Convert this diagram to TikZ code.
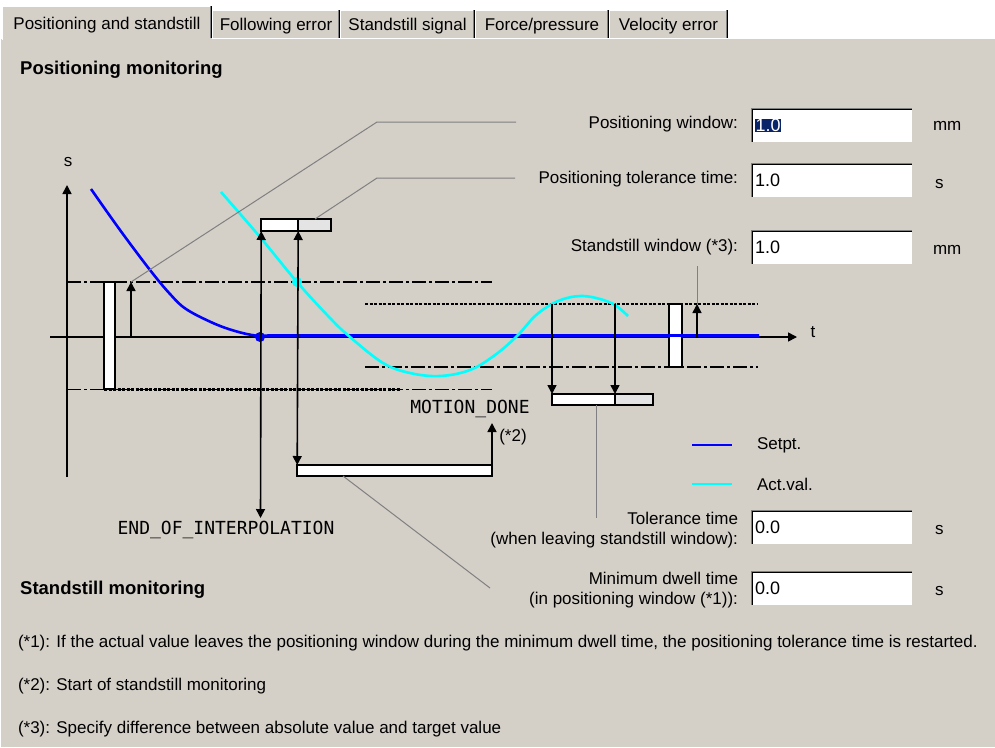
\documentclass[tikz,border=0pt]{standalone}
\usepackage{fontspec}
\setmainfont{Liberation Sans}
\newfontfamily\sigfont{DejaVu Sans Mono}
\usetikzlibrary{arrows.meta}
\definecolor{panel}{RGB}{212,208,200}
\definecolor{edgegray}{RGB}{128,128,128}
\definecolor{selblue}{RGB}{10,36,106}
\definecolor{flaggray}{RGB}{228,228,228}
\definecolor{setblue}{RGB}{0,0,255}
\definecolor{actcyan}{RGB}{0,255,255}

% sunken edit field: name, left x, top y, content
\newcommand\editfield[4]{%
  \node[field] (#1) at (#2,#3) {#4};
  \draw[edgegray,line width=1pt] ([shift={(0.5pt,0pt)}]#1.south west) -- ([shift={(0.5pt,-0.5pt)}]#1.north west) -- ([shift={(0pt,-0.5pt)}]#1.north east);
  \draw[black,line width=1pt] ([shift={(1.5pt,1pt)}]#1.south west) -- ([shift={(1.5pt,-1.5pt)}]#1.north west) -- ([shift={(-1pt,-1.5pt)}]#1.north east);
  \draw[panel,line width=1pt] ([shift={(0pt,0.5pt)}]#1.south west) -- ([shift={(-0.5pt,0.5pt)}]#1.south east) -- ([shift={(-0.5pt,0pt)}]#1.north east);
}
% tab of the tab strip: name, left x, right x, top y, label
\newcommand\tabitem[5]{%
  \node[tabsty,minimum width={#3-#2},minimum height={38-#4}] (#1) at ({(#2+#3)/2},{(38+#4)/2}) {#5};
  \draw[white,line width=1pt] ([xshift=0.5pt]#1.south west) -- ([shift={(0.5pt,-0.5pt)}]#1.north west) -- ([shift={(-1pt,-0.5pt)}]#1.north east);
  \draw[edgegray,line width=1pt] ([xshift=-1.5pt]#1.north east) -- ([xshift=-1.5pt]#1.south east);
  \draw[black,line width=1pt] ([xshift=-0.5pt]#1.north east) -- ([xshift=-0.5pt]#1.south east);
}

\begin{document}
\begin{tikzpicture}[x=1pt,y=-1pt,
  ui/.style={inner sep=0pt,outer sep=0pt,font=\fontsize{17}{21}\selectfont},
  lbl/.style={ui,anchor=east,align=right},
  unit/.style={ui,anchor=west},
  head/.style={inner sep=0pt,anchor=west,font=\bfseries\fontsize{18.5}{21}\selectfont},
  sig/.style={inner sep=0pt,font=\sigfont\fontsize{18}{21}\selectfont},
  note/.style={ui,anchor=west},
  tabsty/.style={ui,fill=panel,inner sep=0pt,text depth=0pt},
  field/.style={ui,anchor=north west,fill=white,minimum width=162pt,minimum height=35pt,
    inner xsep=4pt,text width=154pt,align=left,font=\fontsize{18}{21}\selectfont},
  axis/.style={line width=1.6pt,black},
  tip/.style={-{Triangle[width=9pt,length=9pt]}},
  tips/.style={{Triangle[width=9pt,length=9pt]}-{Triangle[width=9pt,length=9pt]}},
  leader/.style={edgegray,line width=1pt},
  posline/.style={line width=1.4pt,black,dash pattern=on 14pt off 3pt on 3pt off 3pt},
  dotline/.style={line width=2.2pt,black,dash pattern=on 3pt off 1.5pt},
  winbar/.style={draw=black,line width=1.4pt,fill=white,inner sep=0pt,outer sep=0pt,anchor=north west},
  flagw/.style={draw=black,line width=1.4pt,fill=white,inner sep=0pt,outer sep=0pt,anchor=north west},
  flagg/.style={flagw,fill=flaggray},
  dot/.style={circle,inner sep=0pt,minimum size=10pt}]

% frame and panel
\useasboundingbox (0,0) rectangle (995,747);
\fill[white] (0,0) rectangle (995,39);
\fill[panel] (0,38) rectangle (995,747);
\draw[white,line width=1pt] (0,38.5) -- (995,38.5);
\draw[white,line width=1pt] (0.5,38) -- (0.5,747);

% tab strip
\tabitem{tabB}{212}{340}{10}{Following error}
\tabitem{tabC}{340}{475}{10}{Standstill signal}
\tabitem{tabD}{475}{609}{10}{Force/pressure}
\tabitem{tabE}{609}{728}{10}{Velocity error}
\node[tabsty,minimum width=210pt,minimum height=34pt] (tabA) at (107,23) {Positioning and standstill};
\draw[white,line width=1pt] (2.5,40) -- (2.5,6.5) -- (211,6.5);
\draw[edgegray,line width=1pt] (210.5,6) -- (210.5,38);
\draw[black,line width=1pt] (211.5,6) -- (211.5,38);

% headings
\node[head] (hpos) at (20,70) {Positioning monitoring};
\node[head] (hstill) at (20,590) {Standstill monitoring};

% parameter labels, fields and units
\node[lbl] (pwlab) at (738,124) {Positioning window:};
\node[lbl] (ptlab) at (738,179) {Positioning tolerance time:};
\node[lbl] (swlab) at (738,247) {Standstill window (*3):};
\node[lbl] (stlab) at (738,530) {Tolerance time\\[-0.5pt](when leaving standstill window):};
\node[lbl] (mdlab) at (738,590) {Minimum dwell time\\[-0.5pt](in positioning window (*1)):};

\editfield{pwf}{751}{108}{{\fboxsep=0.6pt\colorbox{selblue}{\color{white}1.0}}}
\editfield{ptf}{751}{163}{1.0}
\editfield{swf}{751}{230}{1.0}
\editfield{stf}{751}{510}{0.0}
\editfield{mdf}{751}{571}{0.0}

\node[unit] (pwu) at (933,126) {mm};
\node[unit] (ptu) at (935,184) {s};
\node[unit] (swu) at (933,250) {mm};
\node[unit] (stu) at (935,530) {s};
\node[unit] (mdu) at (935,591) {s};

% footnotes
\node[note] (n1) at (18,643) {(*1): If the actual value leaves the positioning window during the minimum dwell time, the positioning tolerance time is restarted.};
\node[note] (n2) at (18,686) {(*2): Start of standstill monitoring};
\node[note] (n3) at (18,729) {(*3): Specify difference between absolute value and target value};

% axes
\coordinate (ybot) at (67,477);
\coordinate (ytop) at (67,185);
\coordinate (xl) at (50,337);
\coordinate (xr) at (797,337);
\draw[axis,tip] (ybot) -- (ytop);
\draw[axis,tip] (xl) -- (xr);
\node[ui] (slab) at (68,162) {s};
\node[ui] (tlab) at (813,332) {t};

% positioning window limits
\draw[posline] (67,282) -- (492,282);
\draw[posline] (67,389.5) -- (492,389.5);
\draw[dotline] (104,389.5) -- (401,389.5);
% standstill window limits
\draw[dotline] (365,304) -- (758,304);
\draw[posline] (365,367) -- (758,367);

% window bars
\node[winbar,minimum width=11pt,minimum height=107pt] (pwbar) at (104,282) {};
\node[winbar,minimum width=13pt,minimum height=63pt] (swbar) at (669,304) {};

% setpoint and actual value
\draw[setblue,line width=2.6pt,line join=round]
  plot[smooth,tension=0.6] coordinates {(91,189) (120,230) (150,270) (170,294) (186,309) (213,323) (235,331) (255,335.5) (268,335.5)}
  -- (759,335.5);
\draw[actcyan,line width=2.6pt,line join=round]
  plot[smooth,tension=0.6] coordinates {(221,192) (260,237) (297,282) (330,318) (350,337) (383,363) (410,373) (440,376) (470,370) (495,355) (517,336) (535,316) (552,304) (567,298) (583,296) (600,299) (615,305) (628,316)};
\node[dot,fill=setblue] (endip) at (260,337) {};
\node[dot,fill=actcyan] (enterpw) at (297,282) {};

% positioning window width
\coordinate (pwbase) at (131,337);
\coordinate (pwtip) at (131,282);
\draw[axis,tip] (pwbase) -- (pwtip);
\coordinate (pwbend) at (377,122);
\coordinate (pwend) at (516,122);
\draw[leader] (pwtip) -- (pwbend) -- (pwend);

% positioning tolerance time flag
\node[flagw,minimum width=37pt,minimum height=12pt] (ptw) at (261,219) {};
\node[flagg,minimum width=33pt,minimum height=12pt] (ptg) at (298,219) {};
\coordinate (ptbend) at (377,178);
\coordinate (ptend) at (515,178);
\draw[leader] ([xshift=17pt]ptg.north west) -- (ptbend) -- (ptend);

% signals
\node[sig] (eoi) at (226,530) {END\_OF\_INTERPOLATION};
\coordinate (eoitip) at (260.5,518);
\draw[axis,tips] ([xshift=0.2pt]ptw.south west) -- (eoitip);

\node[flagw,minimum width=195pt,minimum height=11pt] (mdbox) at (297,465) {};
\draw[axis,tips] ([xshift=0.2pt]ptg.south west) -- ([xshift=0.2pt]mdbox.north west);
\node[sig] (mdone) at (470,409) {MOTION\_DONE};
\coordinate (mdtip) at (492,423);
\draw[axis,tip] (mdbox.north east) -- (mdtip);
\node[ui] (star2) at (513,437) {(*2)};
\coordinate (mdend) at (490,588);
\draw[leader] ([xshift=46pt]mdbox.south west) -- (mdend);

% standstill tolerance time flag
\node[flagw,minimum width=63pt,minimum height=11pt] (stw) at (552,394) {};
\node[flagg,minimum width=38pt,minimum height=11pt] (stg) at (615,394) {};
\coordinate (leave1) at (552,304);
\coordinate (leave2) at (615,304);
\draw[axis,tip] (leave1) -- (stw.north west);
\draw[axis,tip] (leave2) -- (stg.north west);
\coordinate (stend) at (596,518);
\draw[leader] ([xshift=44pt]stw.south west) -- (stend);

% standstill window width
\coordinate (swbase) at (697,337);
\coordinate (swtip) at (697,304);
\coordinate (swend) at (697,266);
\draw[leader] (swtip) -- (swend);
\draw[axis,tip] (swbase) -- (swtip);

% legend
\coordinate (lg1a) at (692,445);
\coordinate (lg1b) at (732,445);
\coordinate (lg2a) at (692,484);
\coordinate (lg2b) at (732,484);
\draw[setblue,line width=2.6pt] (lg1a) -- (lg1b);
\draw[actcyan,line width=2.6pt] (lg2a) -- (lg2b);
\node[unit] (lgset) at (757,445) {Setpt.};
\node[unit] (lgact) at (757,484) {Act.val.};
\end{tikzpicture}
\end{document}
